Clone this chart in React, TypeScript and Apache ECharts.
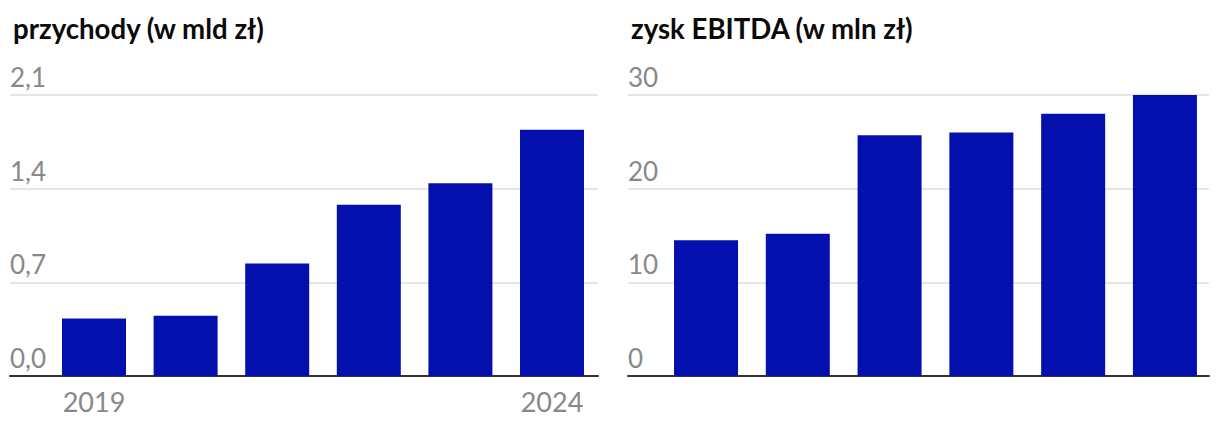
import React, { useEffect, useRef } from "react";
import * as echarts from "echarts";

const years = [2019, 2020, 2021, 2022, 2023, 2024];
const revenue = [0.43, 0.45, 0.84, 1.28, 1.44, 1.84];
const ebitda = [14.5, 15.2, 25.7, 26.0, 28.0, 30.0];
const titles = ["przychody (w mld zł)", "zysk EBITDA (w mln zł)"];
const shownYears = [2019, 2024];

const BAR = "#0410ae";
const FONT = "Lato";

export default function App() {
  const ref = useRef<HTMLDivElement>(null);
  useEffect(() => {
    document.body.style.margin = "0";
    const chart = echarts.init(ref.current!, null, { renderer: "svg" });
    const yLabel = (dec: number) => ({
      inside: true,
      margin: 0,
      verticalAlign: "bottom" as const,
      padding: [0, 0, 5, 0],
      color: "#888",
      fontFamily: FONT,
      fontSize: 26,
      formatter: (v: number) => v.toFixed(dec).replace(".", ","),
    });
    const xAxisBase = (min: number, max: number, showLabels: boolean) => ({
      type: "value" as const,
      min,
      max,
      axisLine: { show: true, onZero: true, lineStyle: { color: "#333", width: 2 } },
      axisTick: { show: false },
      splitLine: { show: false },
      axisLabel: {
        show: showLabels,
        customValues: shownYears,
        color: "#888",
        fontFamily: FONT,
        fontSize: 27,
        margin: 12,
        formatter: (v: number) => String(Math.round(v)),
      },
    });
    const titleStyle = { fontFamily: FONT, fontWeight: "bold" as const, fontSize: 27.6, color: "#0a0a0a" };
    chart.setOption({
      animation: false,
      title: [
        { text: titles[0], left: 8, top: 9, textStyle: titleStyle },
        { text: titles[1], left: 626, top: 9, textStyle: titleStyle },
      ],
      grid: [
        { left: 10, right: 622, top: 95, bottom: 56 },
        { left: 628, right: 11, top: 95, bottom: 56 },
      ],
      xAxis: [
        { ...xAxisBase(2018.083, 2024.502, true), gridIndex: 0 },
        { ...xAxisBase(2018.15, 2024.48, false), gridIndex: 1 },
      ],
      yAxis: [
        {
          type: "value", gridIndex: 0, min: 0, max: 2.1, interval: 0.7,
          axisLine: { show: false }, axisTick: { show: false },
          splitLine: { show: true, lineStyle: { color: "#e6e6e6", width: 2 } },
          axisLabel: yLabel(1),
        },
        {
          type: "value", gridIndex: 1, min: 0, max: 30, interval: 10,
          axisLine: { show: false }, axisTick: { show: false },
          splitLine: { show: true, lineStyle: { color: "#e6e6e6", width: 2 } },
          axisLabel: yLabel(0),
        },
      ],
      series: [
        {
          type: "bar", xAxisIndex: 0, yAxisIndex: 0, barWidth: 64,
          itemStyle: { color: BAR },
          data: years.map((y, i) => [y, revenue[i]]),
        },
        {
          type: "bar", xAxisIndex: 1, yAxisIndex: 1, barWidth: 64,
          itemStyle: { color: BAR },
          data: years.map((y, i) => [y, ebitda[i]]),
        },
      ],
    });
    return () => chart.dispose();
  }, []);
  return <div ref={ref} style={{ width: 1220, height: 432 }} />;
}
